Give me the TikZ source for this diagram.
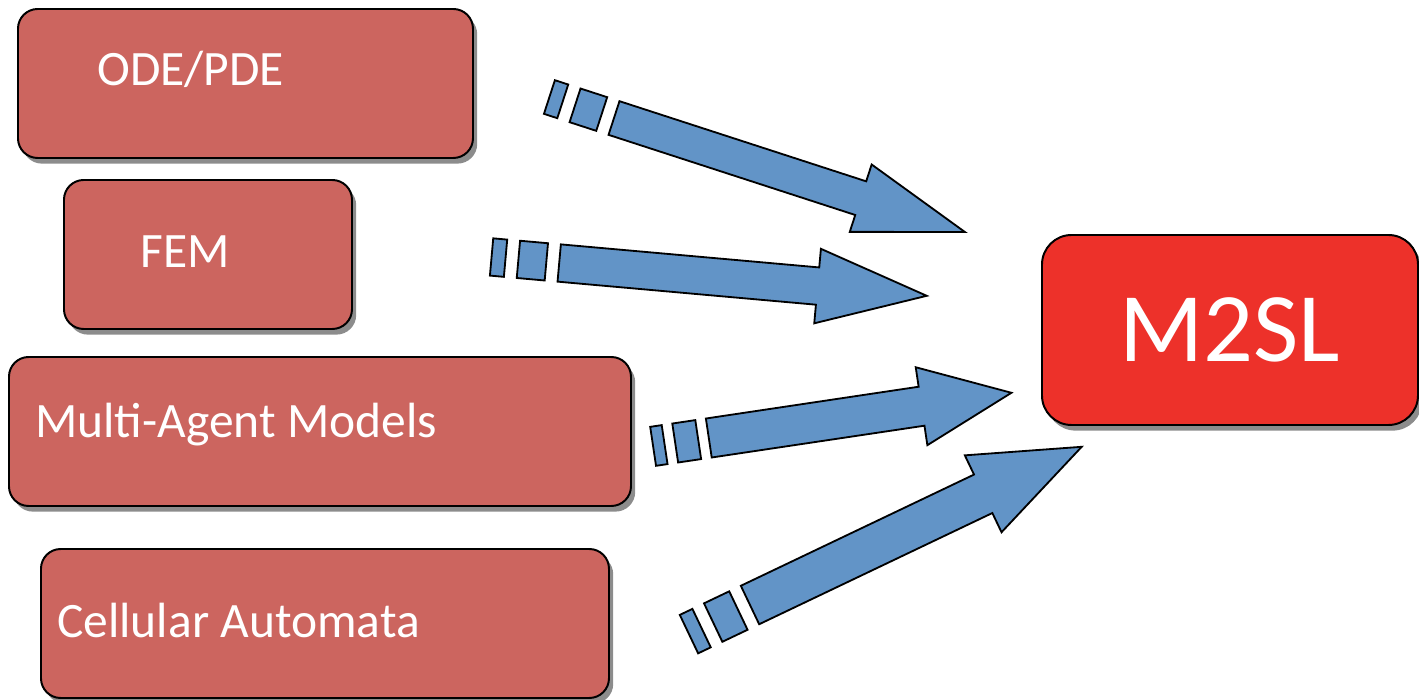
\documentclass[tikz,border=0pt]{standalone}
\usepackage{fontspec}
\setmainfont{Carlito}
\usetikzlibrary{shadows}

\definecolor{boxred}{RGB}{204,101,95}
\definecolor{hubred}{RGB}{237,49,42}
\definecolor{arrowblue}{RGB}{98,148,199}

\newcommand{\px}{0.025cm}

\tikzset{
  srcbox/.style={draw=black, line width=1.4pt, fill=boxred, rounded corners=14pt,
    inner sep=0pt, anchor=north west, minimum height=149*\px,
    drop shadow={shadow xshift=3pt, shadow yshift=-4pt, fill=black, opacity=0.45}},
  hubbox/.style={srcbox, fill=hubred, rounded corners=21pt, text=white,
    font=\fontsize{70}{80}\selectfont},
  boxlabel/.style={text=white, font=\fontsize{35.2}{40}\selectfont,
    inner sep=0pt, anchor=base west},
  blockarrow/.style={draw=black, line width=1.3pt, fill=arrowblue, line join=miter},
}

\begin{document}
\begin{tikzpicture}[x=\px, y=-\px]
  \useasboundingbox (0,0) rectangle (1419,699);

  % source boxes
  \node[srcbox, minimum width=455*\px] (ode) at (17,8)   {};
  \node[srcbox, minimum width=288*\px] (fem) at (63,179) {};
  \node[srcbox, minimum width=622*\px] (mas) at (8,356)  {};
  \node[srcbox, minimum width=568*\px] (ca)  at (40,548) {};

  \node[boxlabel] (odetext) at (97,85)  {ODE/PDE};
  \node[boxlabel] (femtext) at (140,267) {FEM};
  \node[boxlabel] (mastext) at (35,437) {Multi-Agent Models};
  \node[boxlabel] (catext)  at (57,637) {Cellular Automata};

  % target
  \node[hubbox, minimum width=376*\px, minimum height=190*\px] (msl) at (1041,234) {M2SL};

  % broken block arrows: tail x / tail y / angle / length / half width
  \foreach \x/\y/\a/\l/\w in {614/118/-18/369/17.7, 559.2/263/-5.1/369/18.7,
                              708.8/438/8.5/306/19.7, 750/605/25.5/367.5/21.3}{
    \begin{scope}[shift={(\x,\y)}, rotate=\a]
      \filldraw[blockarrow] (-0.184*\l,-\w) rectangle (-0.146*\l,\w);
      \filldraw[blockarrow] (-0.111*\l,-\w) rectangle (-0.035*\l,\w);
      \filldraw[blockarrow] (0,-\w) -- (0.703*\l,-\w) -- (0.703*\l,-2*\w)
        -- (\l,0) -- (0.703*\l,2*\w) -- (0.703*\l,\w) -- (0,\w) -- cycle;
    \end{scope}
  }
\end{tikzpicture}
\end{document}
